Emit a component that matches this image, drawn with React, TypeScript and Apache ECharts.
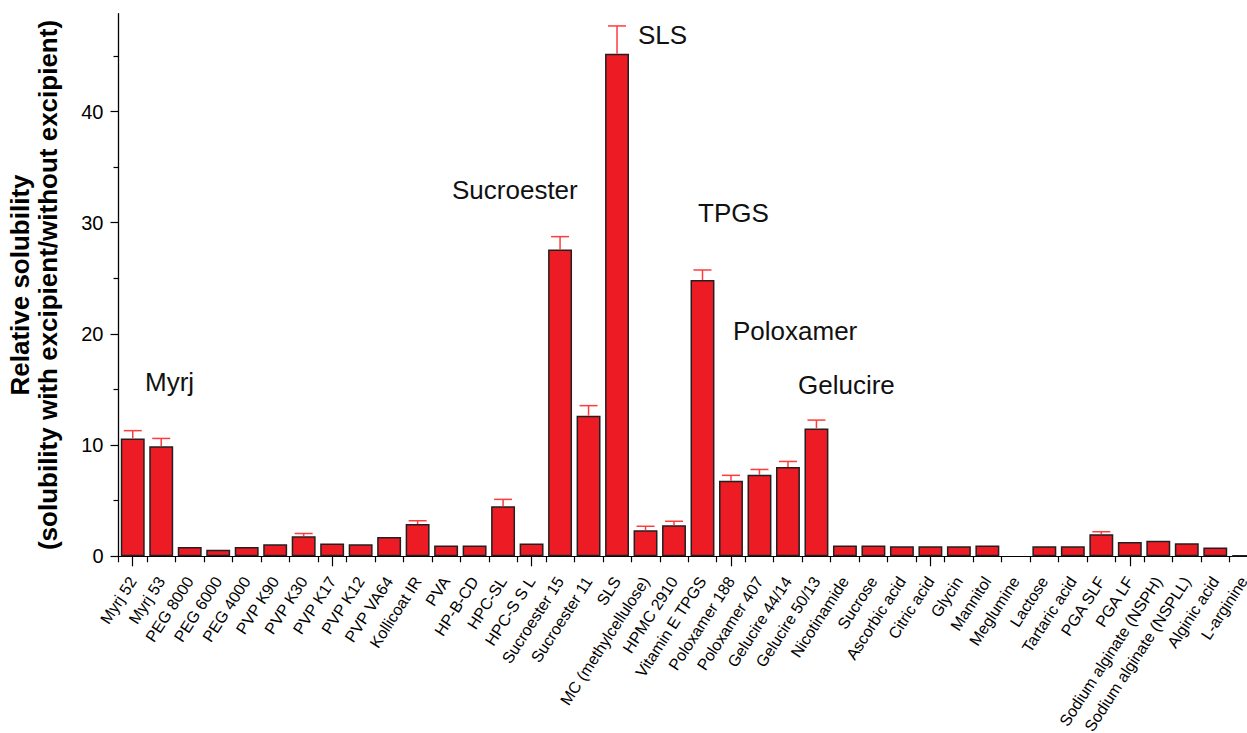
import React, { useEffect, useRef } from "react";
import * as echarts from "echarts";

const categories = [
  "Myrj 52", "Myrj 53", "PEG 8000", "PEG 6000", "PEG 4000", "PVP K90", "PVP K30", "PVP K17",
  "PVP K12", "PVP VA64", "Kollicoat IR", "PVA", "HP-B-CD", "HPC-SL", "HPC-S S L", "Sucroester 15",
  "Sucroester 11", "SLS", "MC (methylcellulose)", "HPMC 2910", "Vitamin E TPGS", "Poloxamer 188",
  "Poloxamer 407", "Gelucire 44/14", "Gelucire 50/13", "Nicotinamide", "Sucrose", "Ascorbic acid",
  "Citric acid", "Glycin", "Mannitol", "Meglumine", "Lactose", "Tartaric acid", "PGA SLF", "PGA LF",
  "Sodium alginate (NSPH)", "Sodium alginate (NSPLL)", "Alginic acid", "L-arginine",
];

const values = [
  10.6, 9.9, 0.84, 0.6, 0.84, 1.08, 1.8, 1.16,
  1.08, 1.73, 2.9, 0.98, 0.98, 4.5, 1.16, 27.6,
  12.65, 45.2, 2.35, 2.8, 24.85, 6.8,
  7.33, 8.03, 11.5, 0.98, 0.98, 0.9,
  0.9, 0.9, 0.98, 0, 0.9, 0.9, 1.99, 1.28,
  1.4, 1.17, 0.8, 0.08,
];

const errors = [
  0.7, 0.7, 0, 0, 0, 0, 0.25, 0,
  0, 0, 0.3, 0, 0, 0.62, 0, 1.15,
  0.9, 2.5, 0.35, 0.35, 0.9, 0.48,
  0.48, 0.5, 0.75, 0, 0, 0,
  0, 0, 0, 0, 0, 0, 0.22, 0,
  0, 0, 0, 0,
];

const majorTicks = [0, 10, 20, 30, 40];
const minorTicks = [5, 15, 25, 35, 45];

const annotations = ["Myrj", "Sucroester", "SLS", "TPGS", "Poloxamer", "Gelucire"];

const FONT = "'Liberation Sans', Arial, Helvetica, sans-serif";

export default function App() {
  const ref = useRef<HTMLDivElement>(null);

  useEffect(() => {
    if (!ref.current) return;
    const chart = echarts.init(ref.current, null, { renderer: "svg" });

    const annPos: Record<string, [number, number]> = {
      Myrj: [145, 382],
      Sucroester: [452, 190],
      SLS: [638, 35],
      TPGS: [698, 213],
      Poloxamer: [733, 331],
      Gelucire: [798, 385],
    };

    const errData = values
      .map((v, i) => [i, v, v + errors[i], errors[i]])
      .filter((d) => d[3] > 0);

    const option: any = {
      animation: false,
      backgroundColor: "#ffffff",
      textStyle: { fontFamily: FONT },
      grid: {
        left: 118.5,
        right: -11,
        top: 13.7,
        bottom: 176.7,
        containLabel: false,
        outerBoundsMode: "none",
      },
      xAxis: [
        {
          type: "category",
          position: "bottom",
          data: categories,
          axisLine: { show: true, lineStyle: { color: "#000", width: 1.2 } },
          axisTick: { show: true, length: 6, lineStyle: { color: "#000", width: 1.2 } },
          axisLabel: {
            show: true,
            interval: 0,
            rotate: 57,
            margin: 22,
            fontSize: 16,
            color: "#000",
            fontFamily: FONT,
          },
        },
        {
          type: "category",
          position: "bottom",
          data: categories,
          axisLine: { show: false },
          axisTick: { show: true, alignWithLabel: true, length: 10, lineStyle: { color: "#000", width: 1.2 } },
          axisLabel: { show: false },
          splitLine: { show: false },
        },
      ],
      yAxis: [
        {
          type: "value",
          position: "left",
          min: 0,
          max: 48.8,
          interval: 10,
          splitLine: { show: false },
          axisLine: { show: true, lineStyle: { color: "#000", width: 1.3 } },
          axisTick: { show: true, length: 8, customValues: majorTicks, lineStyle: { color: "#000", width: 1.2 } },
          axisLabel: { customValues: majorTicks, fontSize: 20, margin: 15, color: "#000", fontFamily: FONT },
          name: "Relative solubility\n(solubility with excipient/without excipient)",
          nameLocation: "middle",
          nameRotate: 90,
          nameGap: 57,
          nameTextStyle: { fontSize: 26, fontWeight: "bold", color: "#000", lineHeight: 28, fontFamily: FONT },
        },
        {
          type: "value",
          position: "left",
          min: 0,
          max: 48.8,
          interval: 10,
          splitLine: { show: false },
          axisLine: { show: false },
          axisTick: { show: true, length: 5, customValues: minorTicks, lineStyle: { color: "#000", width: 1.2 } },
          axisLabel: { show: false },
        },
      ],
      series: [
        {
          type: "bar",
          xAxisIndex: 0,
          yAxisIndex: 0,
          data: values.map((v) => (v > 0 ? v : null)),
          barCategoryGap: "16%",
          itemStyle: { color: "#ED1C24", borderColor: "#231F20", borderWidth: 1.5 },
          z: 2,
        },
        {
          type: "custom",
          xAxisIndex: 0,
          yAxisIndex: 0,
          data: errData,
          encode: { x: 0, y: [1, 2] },
          z: 3,
          renderItem: (params: any, api: any) => {
            const base = api.coord([api.value(0), api.value(1)]);
            const top = api.coord([api.value(0), api.value(2)]);
            const half = 9;
            const style = { stroke: "#FF3B3B", lineWidth: 1.5 };
            return {
              type: "group",
              children: [
                { type: "line", shape: { x1: base[0], y1: base[1], x2: top[0], y2: top[1] }, style },
                { type: "line", shape: { x1: top[0] - half, y1: top[1], x2: top[0] + half, y2: top[1] }, style },
              ],
            };
          },
        },
      ],
      graphic: annotations.map((t) => ({
        type: "text",
        x: annPos[t][0],
        y: annPos[t][1],
        style: {
          text: t,
          fontSize: 26,
          fontFamily: FONT,
          fill: "#111",
          textAlign: "left",
          textVerticalAlign: "middle",
        },
        z: 10,
      })),
    };

    chart.setOption(option);
    return () => chart.dispose();
  }, []);

  return (
    <div
      ref={ref}
      style={{ position: "absolute", left: 0, top: 0, width: 1247, height: 733 }}
    />
  );
}
